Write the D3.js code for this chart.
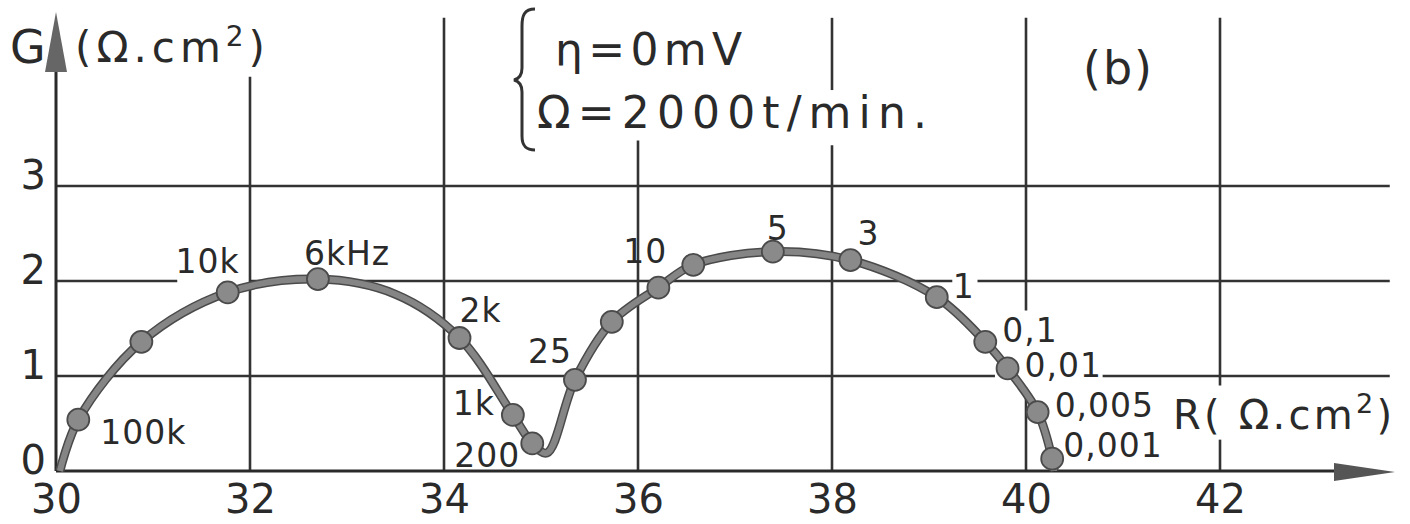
<!DOCTYPE html>
<html>
<head>
<meta charset="utf-8">
<script src="https://cdn.jsdelivr.net/npm/d3@7"></script>
<style>
  body { margin: 0; background: #fff; }
  svg { display: block; }
  text { font-family: "DejaVu Sans", "Liberation Sans", sans-serif; fill: #2a2a2a; }
  .grid { stroke: #333; stroke-width: 2.6; }
  .axis-line { stroke: #2a2a2a; stroke-width: 3; }
</style>
</head>
<body>
<svg id="chart" width="1410" height="524"></svg>
<script>
// Impedance diagram values
const xTicks = [30, 32, 34, 36, 38, 40, 42];
const yTicks = [0, 1, 2, 3];

// measured points (R, G) and their frequency labels
const pointR = [30.23, 30.88, 31.77, 32.70, 34.16, 34.71, 34.91, 35.35, 35.73, 36.21, 36.57, 37.39, 38.19, 39.08, 39.58, 39.81, 40.12, 40.27];
const pointG = [0.54, 1.36, 1.88, 2.02, 1.40, 0.59, 0.29, 0.96, 1.57, 1.93, 2.17, 2.31, 2.22, 1.83, 1.36, 1.08, 0.62, 0.13];
const pointLabels = ["100k", "", "10k", "6kHz", "2k", "1k", "200", "25", "", "10", "", "5", "3", "1", "0,1", "0,01", "0,005", "0,001"];

// hand drawn curve through the points
const curveR = [30.04, 30.23, 30.88, 31.77, 32.70, 33.50, 34.16, 34.71, 34.91, 35.06, 35.35, 35.73, 36.21, 36.57, 37.39, 38.19, 39.08, 39.58, 39.81, 40.12, 40.27, 40.29];
const curveG = [0.00, 0.54, 1.36, 1.88, 2.02, 1.86, 1.40, 0.59, 0.29, 0.19, 0.96, 1.57, 1.93, 2.17, 2.31, 2.22, 1.83, 1.36, 1.08, 0.62, 0.13, 0.00];

const svg = d3.select("#chart");

const x = d3.scaleLinear().domain([30, 42]).range([56, 1220]);
const y = d3.scaleLinear().domain([0, 3]).range([471, 186]);

// grid lines, with the gaps left around the lettering
const vGrid = [
    { v: 32, segs: [[0, 4.15]] },
    { v: 34, segs: [[0, 4.77]] },
    { v: 36, segs: [[0, 3.48]] },
    { v: 38, segs: [[0, 3.43], [4.01, 4.77]] },
    { v: 40, segs: [[0, 0.88], [1.69, 4.77]] },
    { v: 42, segs: [[0, 0.33], [0.9, 4.77]] }
];
const hGrid = [
    { v: 3, segs: [[30, 43.75]] },
    { v: 2, segs: [[30, 31.25], [32.0, 39.24], [39.5, 43.75]] },
    { v: 1, segs: [[30, 39.68], [40.79, 43.75]] }
];

const gridG = svg.append("g");
vGrid.forEach(d => d.segs.forEach(s => {
    gridG.append("line").attr("class", "grid")
        .attr("x1", x(d.v)).attr("x2", x(d.v))
        .attr("y1", y(s[0])).attr("y2", y(s[1]));
}));
hGrid.forEach(d => d.segs.forEach(s => {
    gridG.append("line").attr("class", "grid")
        .attr("x1", x(s[0])).attr("x2", x(s[1]))
        .attr("y1", y(d.v)).attr("y2", y(d.v));
}));

// axes with arrow heads
svg.append("line").attr("class", "axis-line")
    .attr("x1", x(30)).attr("x2", 1340).attr("y1", y(0)).attr("y2", y(0));
svg.append("path")
    .attr("d", `M1334,${y(0) - 8} L1395,${y(0) + 1} L1334,${y(0) + 10} Z`)
    .attr("fill", "#555");
svg.append("line").attr("class", "axis-line")
    .attr("x1", x(30)).attr("x2", x(30)).attr("y1", y(0)).attr("y2", 60);
svg.append("path")
    .attr("d", `M${x(30) - 11},72 L${x(30)},12 L${x(30) + 11},72 Z`)
    .attr("fill", "#666");

// tick labels
svg.append("g")
    .attr("transform", `translate(0,${y(0)})`)
    .call(d3.axisBottom(x).tickValues(xTicks).tickSize(0).tickFormat(d3.format("d")))
    .call(g => g.select(".domain").remove())
    .call(g => g.selectAll("text")
        .attr("y", 42).attr("dy", null)
        .attr("fill", "#2a2a2a")
        .style("font-size", "40px")
        .attr("font-family", null));

svg.append("g")
    .attr("transform", `translate(${x(30)},0)`)
    .call(d3.axisLeft(y).tickValues(yTicks).tickSize(0).tickPadding(10).tickFormat(d3.format("d")))
    .call(g => g.select(".domain").remove())
    .call(g => g.selectAll("text")
        .attr("dy", null).attr("y", 2)
        .attr("fill", "#2a2a2a")
        .style("font-size", "40px")
        .attr("font-family", null));

// curve and measured points
const line = d3.line()
    .x((d, i) => x(curveR[i]))
    .y((d, i) => y(curveG[i]))
    .curve(d3.curveCatmullRom.alpha(0.5));

svg.append("path")
    .datum(curveR)
    .attr("d", line)
    .attr("fill", "none")
    .attr("stroke", "#4a4a4a")
    .attr("stroke-width", 9)
    .attr("stroke-linejoin", "round");
svg.append("path")
    .datum(curveR)
    .attr("d", line)
    .attr("fill", "none")
    .attr("stroke", "#858585")
    .attr("stroke-width", 6)
    .attr("stroke-linejoin", "round");

svg.append("g").selectAll("circle")
    .data(pointR)
    .join("circle")
    .attr("cx", d => x(d))
    .attr("cy", (d, i) => y(pointG[i]))
    .attr("r", 11)
    .attr("fill", "#8a8a8a")
    .attr("stroke", "#4a4a4a")
    .attr("stroke-width", 1.8);

// frequency labels: offset from the dot [dx, dy, anchor]
const labelOffset = {
    "100k": [22, 24, "start"],
    "10k": [12, -19, "end"],
    "6kHz": [-14, -14, "start"],
    "2k": [0, -16, "start"],
    "1k": [-18, 0, "end"],
    "200": [-12, 24, "end"],
    "25": [-3, -17, "end"],
    "10": [-35, -25, "start"],
    "5": [-6, -12, "start"],
    "3": [7, -15, "start"],
    "1": [16, 1, "start"],
    "0,1": [17, 0, "start"],
    "0,01": [17, 9, "start"],
    "0,005": [17, 5, "start"],
    "0,001": [11, -2, "start"]
};

svg.append("g").selectAll("text")
    .data(pointLabels.map((t, i) => ({ t, r: pointR[i], g: pointG[i] })).filter(d => d.t))
    .join("text")
    .attr("x", d => x(d.r) + labelOffset[d.t][0])
    .attr("y", d => y(d.g) + labelOffset[d.t][1])
    .attr("text-anchor", d => labelOffset[d.t][2])
    .style("font-size", "33px")
    .style("letter-spacing", "1px")
    .text(d => d.t);

// axis titles
const yTitle = svg.append("g");
yTitle.append("text").attr("x", 10).attr("y", 63).style("font-size", "46px").text("G");
const yUnit = yTitle.append("text").attr("x", 75).attr("y", 62).style("font-size", "42px")
    .attr("textLength", 190).attr("lengthAdjust", "spacing");
yUnit.append("tspan").text("(Ω.cm");
yUnit.append("tspan").attr("dy", -16).style("font-size", "28px").text("2");
yUnit.append("tspan").attr("dy", 16).text(")");

const xUnit = svg.append("text").attr("x", 1173).attr("y", 429).style("font-size", "40px")
    .attr("textLength", 219).attr("lengthAdjust", "spacing");
xUnit.append("tspan").text("R( Ω.cm");
xUnit.append("tspan").attr("dy", -16).style("font-size", "27px").text("2");
xUnit.append("tspan").attr("dy", 16).text(")");

// conditions block with brace
svg.append("path")
    .attr("d", "M535,9 C524,9 522,16 522,26 L522,68 C522,76 518,79 514,80 C518,81 522,84 522,92 L522,136 C522,146 526,150 535,150")
    .attr("fill", "none")
    .attr("stroke", "#333")
    .attr("stroke-width", 3);
svg.append("text").attr("x", 555).attr("y", 65).style("font-size", "44px")
    .attr("textLength", 187).attr("lengthAdjust", "spacing").text("η=0mV");
svg.append("text").attr("x", 537).attr("y", 128).style("font-size", "44px")
    .attr("textLength", 390).attr("lengthAdjust", "spacing").text("Ω=2000t/min.");

svg.append("text").attr("x", 1083).attr("y", 84).style("font-size", "46px")
    .attr("textLength", 69).attr("lengthAdjust", "spacing").text("(b)");
</script>
</body>
</html>
